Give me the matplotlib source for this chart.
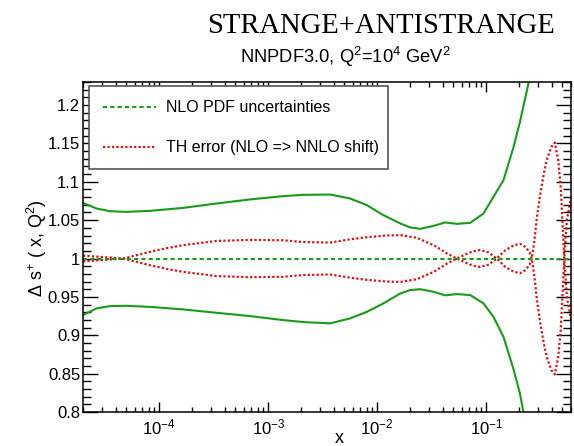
import numpy as np
import matplotlib
matplotlib.use('Agg')
import matplotlib.pyplot as plt
from matplotlib.ticker import LogLocator, LogFormatterMathtext, MultipleLocator, NullFormatter

plt.rcParams['font.family'] = ['Liberation Sans', 'DejaVu Sans']
plt.rcParams['mathtext.default'] = 'regular'

# x knots of the PDF uncertainty band
x_band = [2e-5, 2.66e-5, 3.53e-5, 5e-5, 8.2e-5, 1.66e-4, 3.36e-4, 6.8e-4, 1.37e-3, 2.1e-3,
          3.7e-3, 5.65e-3, 8.05e-3, 1.14e-2, 1.63e-2, 2.01e-2, 2.48e-2, 3.29e-2, 4.21e-2,
          5.38e-2, 7.13e-2, 9.45e-2, 0.1166, 0.144, 0.178, 0.204, 0.244, 0.27]
band_up = [1.0725, 1.0652, 1.0617, 1.0608, 1.0621, 1.066, 1.0717, 1.077, 1.0813, 1.083,
           1.0834, 1.0782, 1.0695, 1.0565, 1.0457, 1.0405, 1.0387, 1.0426, 1.047,
           1.0452, 1.0465, 1.0587, 1.0804, 1.102, 1.145, 1.178, 1.228, 1.26]
band_dn = [0.9263, 0.935, 0.938, 0.9384, 0.937, 0.9337, 0.9293, 0.925, 0.9198, 0.9172,
           0.9155, 0.922, 0.9306, 0.9415, 0.9545, 0.9589, 0.960, 0.9567, 0.952,
           0.9537, 0.9524, 0.9415, 0.924, 0.898, 0.856, 0.824, 0.765, 0.73]

# NLO -> NNLO shift (signed), drawn as 1 +/- shift
x_th = [2e-5, 3e-5, 4.7e-5, 8.2e-5, 1.17e-4, 1.66e-4, 3.36e-4, 6.8e-4, 1.37e-3, 2.1e-3,
        3.7e-3, 5.65e-3, 8.05e-3, 1.23e-2, 1.63e-2, 2.31e-2, 3.29e-2, 4.37e-2, 5.38e-2,
        6.5e-2, 7.5e-2, 8.8e-2, 0.105, 0.125, 0.15, 0.178, 0.204, 0.23, 0.25, 0.262,
        0.275, 0.29, 0.31, 0.335, 0.358, 0.397, 0.426, 0.458, 0.483, 0.50, 0.52, 0.55, 0.6]
th_shift = [-0.0037, -0.002, 0.0, 0.0087, 0.0135, 0.0174, 0.0229, 0.0243, 0.0238, 0.0215,
            0.0208, 0.025, 0.0278, 0.030, 0.0305, 0.027, 0.0175, 0.0066, 0.0,
            -0.0055, -0.0092, -0.011, -0.008, 0.0, 0.011, 0.017, 0.0193, 0.015, 0.008, 0.0,
            -0.02, -0.05, -0.08, -0.108, -0.128, -0.1455, -0.151, -0.128, -0.093, -0.05, 0.0, 0.05, 0.08]

xlim = (2e-5, 0.6)
ylim = (0.8, 1.23)

green = '#1a9a1a'
red = '#e01010'

fig = plt.figure(figsize=(5.74, 4.46), dpi=100)
ax = fig.add_axes([0.1446, 0.0762, 0.8502, 0.7399])

xs = np.array(x_th)
sh = np.array(th_shift)
ax.plot(x_band, band_up, color=green, lw=1.5)
ax.plot(x_band, band_dn, color=green, lw=1.5)
ax.plot(xs, 1 + sh, color=red, lw=1.6, linestyle=(0, (1, 1)))
ax.plot(xs, 1 - sh, color=red, lw=1.6, linestyle=(0, (1, 1)),
        label='TH error (NLO => NNLO shift)')
ax.plot(xlim, [1, 1], color=green, lw=1.5, linestyle=(0, (2, 1.5)),
        label='NLO PDF uncertainties')

ax.set_xscale('log')
ax.set_xlim(*xlim)
ax.set_ylim(*ylim)

ax.xaxis.set_major_locator(LogLocator(base=10))
ax.xaxis.set_major_formatter(LogFormatterMathtext())
ax.xaxis.set_minor_locator(LogLocator(base=10, subs=np.arange(2, 10)))
ax.xaxis.set_minor_formatter(NullFormatter())
ax.yaxis.set_major_locator(MultipleLocator(0.05))
ax.yaxis.set_minor_locator(MultipleLocator(0.01))
ax.yaxis.set_major_formatter(lambda v, p: f'{v:g}')

ax.tick_params(axis='both', which='both', direction='in', top=True, right=True,
               labelsize=12, color='black')
ax.tick_params(axis='x', which='major', length=7, width=1.0, pad=4)
ax.tick_params(axis='x', which='minor', length=3.6, width=1.0)
ax.tick_params(axis='y', which='major', length=10.5, width=1.0, pad=2)
ax.tick_params(axis='y', which='minor', length=5.5, width=1.0)
for sp in ax.spines.values():
    sp.set_linewidth(1.1)

handles, labels = ax.get_legend_handles_labels()
leg = ax.legend(handles[::-1], labels[::-1], loc='upper left',
                bbox_to_anchor=(0.0123, 0.739, 0.613, 0.249), mode='expand',
                borderaxespad=0, fontsize=11.5, handlelength=3.3, handletextpad=0.65,
                labelspacing=1.55, borderpad=0.9, fancybox=False, framealpha=1)
leg.get_frame().set_edgecolor('#555555')
leg.get_frame().set_linewidth(1.2)

fig.text(339 / 574, 1 - 443 / 446, 'x', ha='center', va='baseline', fontsize=13)
fig.text(37 / 574, 1 - 248 / 446, 'Δ s$^{+}$ ( x, Q$^{2}$)', rotation=90,
         ha='center', va='center', fontsize=13)

fig.text(381 / 574, 1 - 33 / 446, 'STRANGE+ANTISTRANGE', ha='center', va='baseline',
         fontsize=20.6, family='Liberation Serif')
fig.text(345.5 / 574, 1 - 63.3 / 446, 'NNPDF3.0, Q$^{2}$=10$^{4}$ GeV$^{2}$',
         ha='center', va='baseline', fontsize=13.2)

fig.savefig('out.png', dpi=100)
